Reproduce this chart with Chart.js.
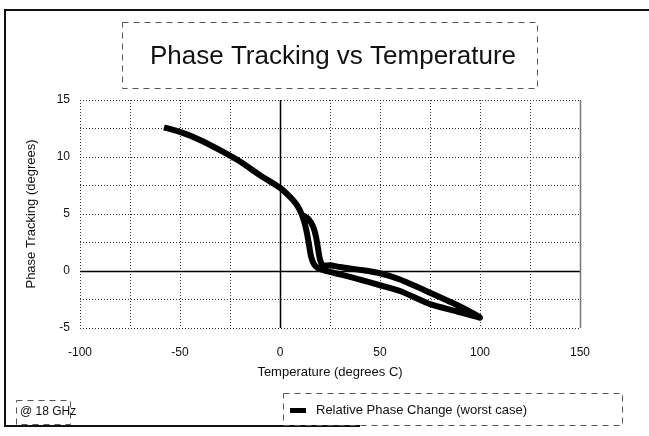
<!DOCTYPE html>
<html>
<head>
<meta charset="utf-8">
<script src="https://cdn.jsdelivr.net/npm/chart.js@4"></script>
<style>
  html, body { margin: 0; padding: 0; background: #fff; }
  #wrap { width: 649px; height: 436px; position: relative; }
</style>
</head>
<body>
<div id="wrap"><canvas id="chPhase"></canvas></div>
<script>
/* phase tracking vs temperature */

// chart text
var chartTitle = 'Phase Tracking vs Temperature';
var noteText = '@ 18 GHz';
var seriesLabel = 'Relative Phase Change (worst case)';
var xTitle = 'Temperature (degrees C)';
var yTitle = 'Phase Tracking (degrees)';

// temperature (deg C) along the traced loop: down, out to 100, back along upper branch
var tempC = [-58, -50, -40, -30, -20, -10, 0, 5, 8, 10, 12, 13.5, 14.5, 15.5, 17, 19, 22,
  30, 40, 50, 60, 75, 87.5, 100,
  98, 87.5, 75, 60, 50, 40, 30, 25, 21.5, 20, 19, 18, 16.5, 14, 11.5];
// phase change (degrees)
var phaseDeg = [12.6, 12.2, 11.5, 10.6, 9.6, 8.4, 7.3, 6.5, 5.9, 5.3, 4.4, 3.3, 2.3, 1.3, 0.6, 0.25, 0.05,
  -0.3, -0.75, -1.25, -1.75, -2.9, -3.5, -4.1,
  -3.85, -2.9, -1.9, -0.75, -0.2, 0.1, 0.35, 0.5, 0.5, 1.0, 2.0, 3.0, 3.9, 4.6, 4.9];

// axis ranges
var xMin = -100, xMax = 150, xStep = 25, xLabelEvery = 50;
var yMin = -5, yMax = 15, yStep = 2.5, yLabelEvery = 5;

var pts = tempC.map(function (t, i) { return {x: t, y: phaseDeg[i]}; });

var fontFam = '"Liberation Sans", Arial, sans-serif';

// frame, title box, note box, legend box and zero lines
var decor = {
  id: 'decor',
  beforeDatasetsDraw: function (chart) {
    var ctx = chart.ctx, a = chart.chartArea;
    var xs = chart.scales.x, ys = chart.scales.y;
    ctx.save();
    ctx.strokeStyle = '#000';
    ctx.lineWidth = 1.5;
    ctx.beginPath();
    var x0 = Math.round(xs.getPixelForValue(0)) + 0.5;
    ctx.moveTo(x0, a.top); ctx.lineTo(x0, a.bottom);
    var y0 = Math.round(ys.getPixelForValue(0)) + 0.5;
    ctx.moveTo(a.left, y0); ctx.lineTo(a.right, y0);
    ctx.stroke();
    // right edge of plot
    ctx.strokeStyle = '#777';
    ctx.beginPath();
    ctx.moveTo(a.right + 0.5, a.top); ctx.lineTo(a.right + 0.5, a.bottom);
    ctx.stroke();
    ctx.restore();
  },
  afterDraw: function (chart) {
    var ctx = chart.ctx;
    ctx.save();
    // outer frame
    ctx.strokeStyle = '#111';
    ctx.lineWidth = 2;
    ctx.beginPath();
    ctx.moveTo(649, 10); ctx.lineTo(5, 10); ctx.lineTo(5, 426); ctx.lineTo(360, 426);
    ctx.stroke();

    // title
    ctx.lineWidth = 1;
    ctx.strokeStyle = '#555';
    ctx.setLineDash([6, 5]);
    ctx.strokeRect(122.5, 22.5, 415, 66);
    ctx.fillStyle = '#111';
    ctx.font = '26px ' + fontFam;
    ctx.textAlign = 'center';
    ctx.textBaseline = 'middle';
    ctx.fillText(chartTitle, 333, 57);

    // note
    ctx.strokeRect(16.5, 400.5, 54, 24);
    ctx.font = '12px ' + fontFam;
    ctx.textAlign = 'left';
    ctx.fillText(noteText, 20, 412);

    // legend
    ctx.strokeRect(283.5, 393.5, 339, 32);
    ctx.setLineDash([]);
    ctx.fillStyle = '#000';
    ctx.fillRect(290, 408, 16, 5);
    ctx.fillStyle = '#111';
    ctx.font = '13px ' + fontFam;
    ctx.fillText(chart.data.datasets[0].label, 316, 410);
    ctx.restore();
  }
};

new Chart(document.getElementById('chPhase'), {
  type: 'scatter',
  data: {
    datasets: [{
      label: seriesLabel,
      data: pts,
      showLine: true,
      borderColor: '#000',
      borderWidth: 6,
      pointRadius: 0,
      tension: 0.2,
      fill: false
    }]
  },
  options: {
    responsive: true,
    maintainAspectRatio: false,
    animation: false,
    layout: {padding: {left: 24, right: 69, top: 100, bottom: 56}},
    plugins: {
      legend: {display: false},
      title: {display: false},
      tooltip: {enabled: false}
    },
    scales: {
      x: {
        type: 'linear',
        min: xMin, max: xMax,
        afterFit: function (s) { s.height = 52; },
        ticks: {
          stepSize: xStep,
          padding: 17,
          color: '#111',
          font: {family: fontFam, size: 12},
          callback: function (v) { return v % xLabelEvery === 0 ? v : ''; }
        },
        grid: {color: '#333', lineWidth: 1, drawTicks: false},
        border: {display: false, dash: [1, 2]},
        title: {display: true, text: xTitle, color: '#111', font: {family: fontFam, size: 13}, padding: {top: 4, bottom: 0}}
      },
      y: {
        min: yMin, max: yMax,
        afterFit: function (s) { s.width = 56; },
        ticks: {
          stepSize: yStep,
          padding: 10,
          color: '#111',
          font: {family: fontFam, size: 12},
          callback: function (v) { return v % yLabelEvery === 0 ? v : ''; }
        },
        grid: {color: '#333', lineWidth: 1, drawTicks: false},
        border: {display: false, dash: [1, 2]},
        title: {display: true, text: yTitle, color: '#111', font: {family: fontFam, size: 13}, padding: {top: 0, bottom: 0}}
      }
    }
  },
  plugins: [decor]
});
</script>
</body>
</html>
